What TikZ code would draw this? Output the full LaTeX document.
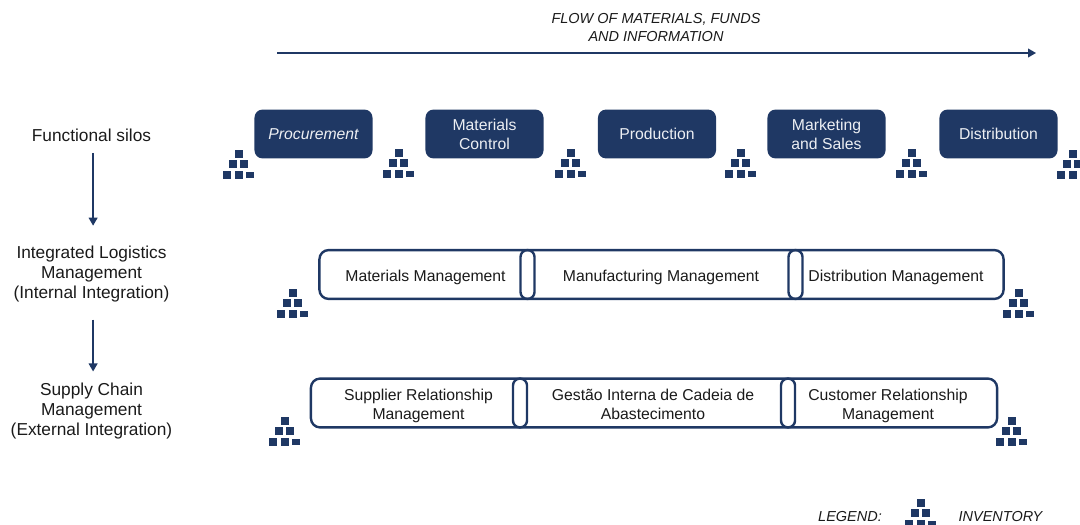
\documentclass[tikz,border=0pt]{standalone}
\usepackage{fontspec}
\setmainfont{Liberation Sans}
\usepackage{xcolor}
\usetikzlibrary{arrows.meta,positioning}
\definecolor{navy}{RGB}{31,56,100}
\definecolor{inktext}{RGB}{26,26,26}
\tikzset{
    silo/.style={rectangle, rounded corners=0.2cm, fill=navy, text=white!92!navy, minimum width=2.95cm, minimum height=1.22cm, align=center, inner sep=0pt, font=\fontsize{11.2}{13.6}\selectfont},
    band/.style={draw=navy, line width=0.06cm, rectangle, rounded corners=0.23cm, minimum height=1.22cm, inner sep=0pt},
    pill/.style={draw=navy, line width=0.06cm, rectangle, rounded corners=0.17cm, minimum width=0.35cm, minimum height=1.22cm, inner sep=0pt},
    lane/.style={align=center, text=inktext, inner sep=0pt, font=\fontsize{12.3}{14.2}\selectfont},
    stage/.style={align=center, text=inktext, inner sep=0pt, font=\fontsize{11.2}{13.6}\selectfont},
    note/.style={align=center, text=inktext, font=\itshape\fontsize{10.3}{12.8}\selectfont, inner sep=0pt},
    flow/.style={draw=navy, line width=0.035cm, -{Triangle[length=0.2cm,width=0.22cm]}},
    crate/.style={fill=navy, draw=none},
    stock/.pic={
        \fill[crate] (-4,0) rectangle (4,8);
        \fill[crate] (-10,10) rectangle (-2,18);
        \fill[crate] (1,10) rectangle (9,18);
        \fill[crate] (-16,21) rectangle (-8,29);
        \fill[crate] (-4,21) rectangle (4,29);
        \fill[crate] (7,22) rectangle (15,28);
    }
}
\begin{document}
\begin{tikzpicture}[x=0.025cm, y=-0.025cm]
    \useasboundingbox (0,0) rectangle (1080,525);

    % header
    \node[note] (flowlabel) at (656,28) {FLOW OF MATERIALS, FUNDS\\AND INFORMATION};
    \coordinate (flowstart) at (277,53);
    \coordinate (flowend) at (1036,53);
    \draw[flow] (flowstart) -- (flowend);

    % left column
    \node[lane] (silos) at (91.5,135) {Functional silos};
    \node[lane] (logistics) at (91.5,274) {Integrated Logistics\\Management\\(Internal Integration)};
    \node[lane] (chain) at (91.5,411) {Supply Chain\\Management\\(External Integration)};
    \draw[flow, shorten <=0.28cm, shorten >=0.5cm] ([xshift=0.04cm]silos.south) -- ([xshift=0.04cm]logistics.north);
    \draw[flow, shorten <=0.43cm, shorten >=0.28cm] ([xshift=0.04cm]logistics.south) -- ([xshift=0.04cm]chain.north);

    % functional silos
    \node[silo, font=\fontsize{11.2}{13.6}\selectfont\itshape] (procurement) at (313.5,134) {Procurement};
    \node[silo] (materials) at (484.5,134) {Materials\\Control};
    \node[silo] (production) at (657,134) {Production};
    \node[silo] (marketing) at (826.5,134) {Marketing\\and Sales};
    \node[silo] (distribution) at (998.5,134) {Distribution};

    % internal integration
    \node[band, minimum width=17.1cm] (internal) at (661.5,274.5) {};
    \node[pill] (pillA) at (527.5,274.5) {};
    \node[pill] (pillB) at (795.5,274.5) {};
    \node[stage] (matman) at (425.5,277) {Materials Management};
    \node[stage] (manuman) at (661,277) {Manufacturing Management};
    \node[stage] (distman) at (896,277) {Distribution Management};

    % external integration
    \node[band, minimum width=17.15cm] (external) at (654,403) {};
    \node[pill] (pillC) at (520,403) {};
    \node[pill] (pillD) at (788,403) {};
    \node[stage] (supman) at (418.5,405.5) {Supplier Relationship\\Management};
    \node[stage] (gestao) at (653,404.5) {Gestão Interna de Cadeia de\\Abastecimento};
    \node[stage] (cusman) at (888,405.5) {Customer Relationship\\Management};

    % inventory
    \pic at (239,150) {stock};
    \pic at (399,149) {stock};
    \pic at (571,149) {stock};
    \pic at (741,149) {stock};
    \pic at (912,149) {stock};
    \pic at (1073,150) {stock};
    \pic at (293,289) {stock};
    \pic at (1019,289) {stock};
    \pic at (285,417) {stock};
    \pic at (1012,417) {stock};

    % legend
    \node[note] (legendlabel) at (850,516.5) {LEGEND:};
    \pic at (921,499) {stock};
    \node[note] (legendtext) at (1000.5,516.5) {INVENTORY};
\end{tikzpicture}
\end{document}
